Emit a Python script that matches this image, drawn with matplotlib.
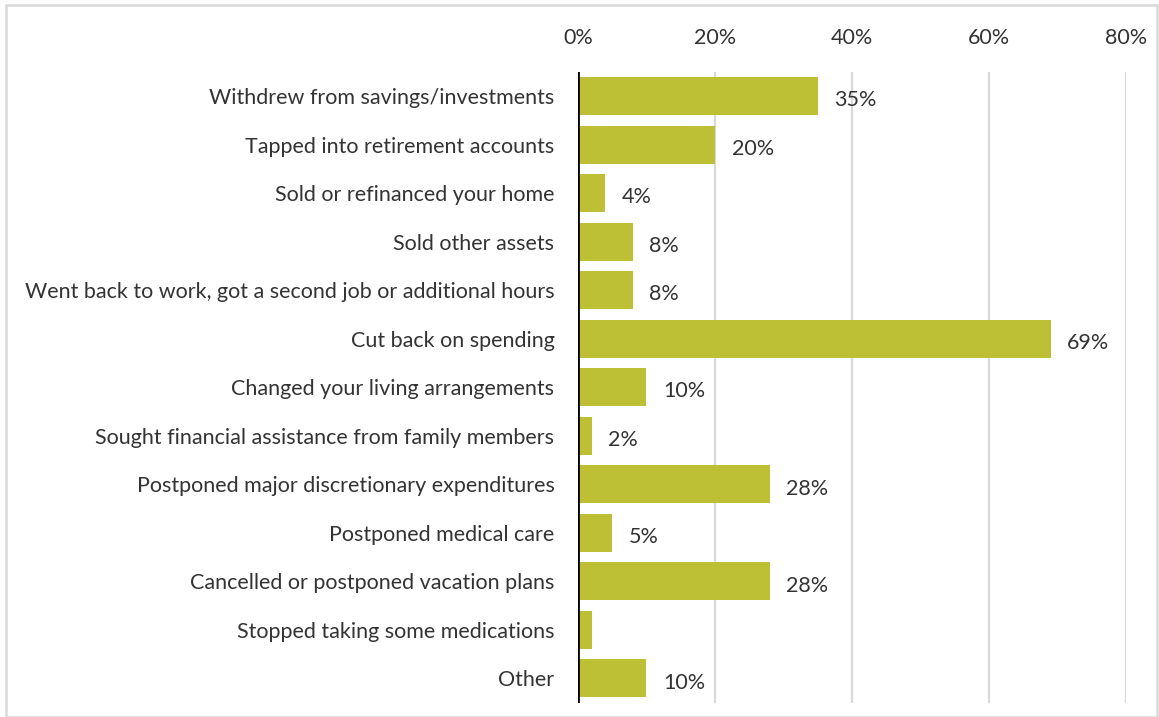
import matplotlib.pyplot as plt
from matplotlib.patches import Rectangle

plt.rcParams['font.family'] = ['Lato', 'DejaVu Sans']

actions = [
    'Withdrew from savings/investments',
    'Tapped into retirement accounts',
    'Sold or refinanced your home',
    'Sold other assets',
    'Went back to work, got a second job or additional hours',
    'Cut back on spending',
    'Changed your living arrangements',
    'Sought financial assistance from family members',
    'Postponed major discretionary expenditures',
    'Postponed medical care',
    'Cancelled or postponed vacation plans',
    'Stopped taking some medications',
    'Other',
]
share = [35, 20, 4, 8, 8, 69, 10, 2, 28, 5, 28, 2, 10]
# bars whose value label is left off
unlabeled = ['Stopped taking some medications']
xticks = [0, 20, 40, 60, 80]

bar_color = '#BDC034'
grid_color = '#D9D9D9'
text_color = '#333333'

fig = plt.figure(figsize=(11.59, 7.17), dpi=100)
ax = fig.add_axes([0.4987, 0.02, 0.4728, 0.8796])

pos = list(range(len(actions)))
ax.barh(pos, share, height=0.78, color=bar_color, zorder=2)

for p, v, name in zip(pos, share, actions):
    if name in unlabeled:
        continue
    ax.annotate(f'{v}%', (v, p), xytext=(12, -3), textcoords='offset points',
                va='center', ha='left', fontsize=15.5, color=text_color)

ax.set_xlim(0, 80)
ax.set_ylim(len(actions) - 0.5, -0.5)
ax.set_xticks(xticks)
ax.set_xticklabels([f'{t}%' for t in xticks])
ax.set_yticks(pos)
ax.set_yticklabels(actions)
ax.xaxis.tick_top()
ax.tick_params(axis='x', length=0, pad=17, labelsize=15.5, labelcolor=text_color)
ax.tick_params(axis='y', length=0, pad=17, labelsize=15.5, labelcolor=text_color)

ax.grid(axis='x', color=grid_color, linewidth=1.6, zorder=0)
ax.axvline(0, color='black', linewidth=2, zorder=3)
for s in ax.spines.values():
    s.set_visible(False)

# light frame round the whole chart
fig.patches.append(Rectangle((0.0055, 0.0), 0.993, 0.9935, transform=fig.transFigure,
                             fill=False, edgecolor=grid_color, linewidth=1.8))

fig.savefig('out.png', dpi=100)
